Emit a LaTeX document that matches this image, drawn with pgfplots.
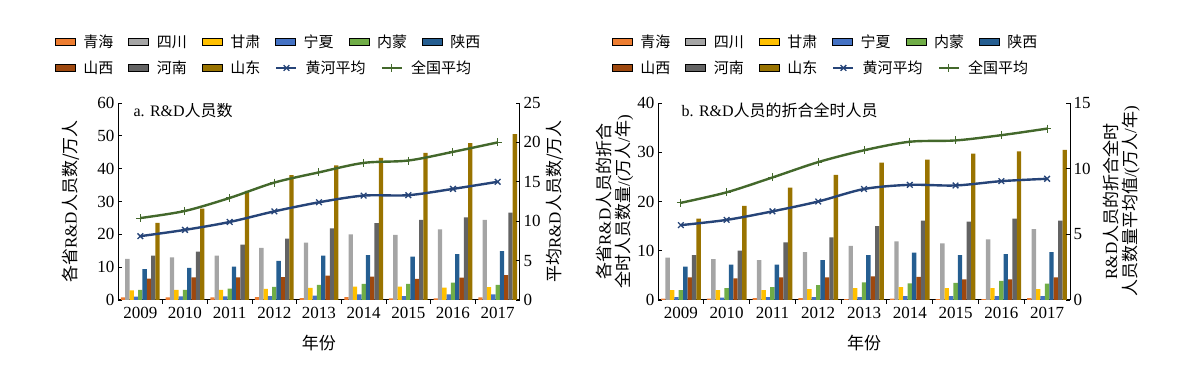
\documentclass[border=0pt]{standalone}
\usepackage{pgfplots}
\pgfplotsset{compat=1.18}
\usepackage{pgfplotstable}
\usepackage{fontspec}
\setmainfont{Liberation Serif}
\newfontfamily\cjk{Noto Sans CJK SC}

\definecolor{cqh}{HTML}{ED7D31}
\definecolor{csc}{HTML}{A5A5A5}
\definecolor{cgs}{HTML}{FFC000}
\definecolor{cnx}{HTML}{4472C4}
\definecolor{cnm}{HTML}{70AD47}
\definecolor{csx}{HTML}{255E91}
\definecolor{cshx}{HTML}{9E480E}
\definecolor{chn}{HTML}{636363}
\definecolor{csd}{HTML}{997300}
\definecolor{chh}{HTML}{264478}
\definecolor{cqg}{HTML}{43682B}

\pgfplotstableread{
x qh sc gs nx nm sx shx hn sd hh qg
0 0.8 12.5 2.9 1.0 3.1 9.4 6.5 13.5 23.5 8.1 10.4
1 0.8 13.0 3.1 1.1 3.1 9.8 6.9 14.7 27.8 8.9 11.3
2 0.8 13.5 3.1 1.1 3.5 10.2 6.9 16.9 33.2 9.9 12.95
3 0.9 15.9 3.4 1.2 4.0 11.9 7.0 18.7 38.0 11.25 14.9
4 0.6 17.5 3.7 1.3 4.6 13.5 7.4 21.8 41.0 12.4 16.2
5 0.9 20.0 4.1 1.7 4.9 13.7 7.1 23.4 43.3 13.25 17.4
6 0.5 19.8 4.1 1.2 4.9 13.2 6.4 24.4 44.8 13.3 17.7
7 0.5 21.5 3.8 1.7 5.3 14.0 6.8 25.2 47.8 14.1 18.8
8 0.8 24.4 3.9 1.7 4.6 14.9 7.6 26.6 50.5 15.0 20.0
}\dataA

\pgfplotstableread{
x qh sc gs nx nm sx shx hn sd hh qg
0 0.3 8.6 2.0 0.6 2.0 6.8 4.6 9.1 16.5 5.7 7.4
1 0.3 8.3 2.0 0.5 2.4 7.2 4.4 10.0 19.1 6.1 8.2
2 0.4 8.1 2.0 0.6 2.6 7.2 4.6 11.7 22.8 6.75 9.33
3 0.4 9.7 2.2 0.6 3.0 8.1 4.6 12.7 25.4 7.5 10.5
4 0.2 11.0 2.4 0.6 3.6 9.1 4.8 15.0 27.9 8.45 11.4
5 0.3 11.9 2.6 0.8 3.4 9.6 4.7 16.1 28.5 8.77 12.05
6 0.2 11.5 2.4 0.8 3.5 9.1 4.2 15.9 29.7 8.72 12.15
7 0.2 12.3 2.4 0.8 3.9 9.3 4.2 16.5 30.2 9.05 12.55
8 0.4 14.4 2.2 0.8 3.3 9.7 4.6 16.1 30.5 9.23 13.05
}\dataB

\pgfplotsset{
  common/.style={
    scale only axis, height=197pt,
    xmin=-0.5, xmax=8.5,
    /pgf/number format/assume math mode=true,
    tick label style={font=\fontsize{17}{17}\selectfont},
    tick align=inside,
    major tick length=0pt, minor tick length=4pt,
    every tick/.append style={black, line width=0.9pt},
    axis line style={black, line width=1pt},
    every axis y label/.style={at={(axis description cs:#1,0.5)}, anchor=center, rotate=90, align=center, font=\fontsize{17}{19}\selectfont},
  },
  baraxis/.style={
    common={#1},
    ybar, bar width=0.0965,
    axis x line*=bottom, axis y line*=left,
    xtick={0,...,8}, xticklabels={2009,2010,2011,2012,2013,2014,2015,2016,2017},
    minor xtick={0.5,1.5,...,7.5},
    xticklabel style={yshift=-4pt},
    every axis x label/.style={at={(axis description cs:0.5,-0.218)}, anchor=center, font=\fontsize{17}{17}\selectfont\cjk},
    legend columns=6,
    legend image code/.code={\fill[##1] (0pt,-3.5pt) rectangle (20pt,3.5pt); \path (26pt,0pt);},
  },
  lineaxis/.style={
    common={#1},
    axis x line=none, axis y line*=right,
    xtick=\empty,
    legend columns=5,
    legend image code/.code={\fill[##1] (0pt,-3.5pt) rectangle (20pt,3.5pt); \path (26pt,0pt);},
  },
  legstyle/.style={draw=none, fill=none, inner sep=0pt, anchor=west,
    font=\fontsize{15}{15}\selectfont\cjk,
    /tikz/every even column/.append style={column sep=13pt}},
  hhline/.style={draw=chh, line width=2.4pt, mark=x, mark size=4pt, mark options={line width=1.3pt, solid}},
  qgline/.style={draw=cqg, line width=2.4pt, mark=+, mark size=4pt, mark options={line width=1pt, solid}},
  lineleg/.style={legend image code/.code={\draw[mark repeat=2,mark phase=2,##1] plot coordinates {(0pt,0pt) (10pt,0pt) (20pt,0pt)}; \path (26pt,0pt);}},
}

\newcommand\bars[1]{%
  \addplot[fill=cqh, draw=none, bar shift=-0.386, forget plot] table[x=x,y=qh]{#1};
  \addplot[fill=csc, draw=none, bar shift=-0.2895, forget plot] table[x=x,y=sc]{#1};
  \addplot[fill=cgs, draw=none, bar shift=-0.193, forget plot] table[x=x,y=gs]{#1};
  \addplot[fill=cnx, draw=none, bar shift=-0.0965, forget plot] table[x=x,y=nx]{#1};
  \addplot[fill=cnm, draw=none, bar shift=0, forget plot] table[x=x,y=nm]{#1};
  \addplot[fill=csx, draw=none, bar shift=0.0965, forget plot] table[x=x,y=sx]{#1};
  \addplot[fill=cshx, draw=none, bar shift=0.193, forget plot] table[x=x,y=shx]{#1};
  \addplot[fill=chn, draw=none, bar shift=0.2895, forget plot] table[x=x,y=hn]{#1};
  \addplot[fill=csd, draw=none, bar shift=0.386, forget plot] table[x=x,y=sd]{#1};
  \addlegendimage{fill=cqh}\addlegendentry{青海}
  \addlegendimage{fill=csc}\addlegendentry{四川}
  \addlegendimage{fill=cgs}\addlegendentry{甘肃}
  \addlegendimage{fill=cnx}\addlegendentry{宁夏}
  \addlegendimage{fill=cnm}\addlegendentry{内蒙}
  \addlegendimage{fill=csx}\addlegendentry{陕西}
}
\newcommand\lines[1]{%
  \addplot[hhline, smooth, forget plot] table[x=x,y=hh]{#1};
  \addplot[qgline, smooth, forget plot] table[x=x,y=qg]{#1};
  \addlegendimage{fill=cshx}\addlegendentry{山西}
  \addlegendimage{fill=chn}\addlegendentry{河南}
  \addlegendimage{fill=csd}\addlegendentry{山东}
  \addlegendimage{hhline, lineleg}\addlegendentry{黄河平均}
  \addlegendimage{qgline, lineleg}\addlegendentry{全国平均}
}

\begin{document}
\begin{tikzpicture}
\path[use as bounding box] (0,0) rectangle (1185pt,369pt);
% Panel a
\begin{axis}[baraxis={-0.117}, at={(118pt,69pt)}, anchor=south west, width=402pt,
  ymin=0, ymax=60, ytick={0,10,...,60}, minor ytick={0,10,...,60},
  ylabel={{\cjk 各省}R\&D{\cjk 人员数/万人}}, xlabel={年份},
  legend style={legstyle, at={(-0.157,1.31)}}]
\bars{\dataA}
\node[anchor=west, font=\fontsize{16}{16}\selectfont] at (axis description cs:0.03,0.962) {a. R\&D{\cjk 人员数}};
\end{axis}
\begin{axis}[lineaxis={1.087}, at={(118pt,69pt)}, anchor=south west, width=402pt,
  ymin=0, ymax=25, ytick={0,5,...,25}, minor ytick={0,5,...,25},
  ylabel={{\cjk 平均}R\&D{\cjk 人员数/万人}},
  legend style={legstyle, at={(-0.157,1.178)}}]
\lines{\dataA}
\end{axis}
% Panel b
\begin{axis}[baraxis={-0.105}, at={(658pt,69pt)}, anchor=south west, width=412pt,
  ymin=0, ymax=40, ytick={0,10,...,40}, minor ytick={0,10,...,40},
  ylabel={{\cjk 各省}R\&D{\cjk 人员的折合}\\{\cjk 全时人员数量}/({\cjk 万人}/{\cjk 年})}, xlabel={年份},
  legend style={legstyle, at={(-0.112,1.31)}}]
\bars{\dataB}
\node[anchor=west, font=\fontsize{16}{16}\selectfont] at (axis description cs:0.049,0.962) {b. R\&D{\cjk 人员的折合全时人员}};
\end{axis}
\begin{axis}[lineaxis={1.124}, at={(658pt,69pt)}, anchor=south west, width=412pt,
  ymin=0, ymax=15, ytick={0,5,...,15}, minor ytick={0,5,...,15},
  ylabel={R\&D{\cjk 人员的折合全时}\\{\cjk 人员数量平均值}/({\cjk 万人}/{\cjk 年})},
  legend style={legstyle, at={(-0.112,1.178)}}]
\lines{\dataB}
\end{axis}
\end{tikzpicture}
\end{document}
